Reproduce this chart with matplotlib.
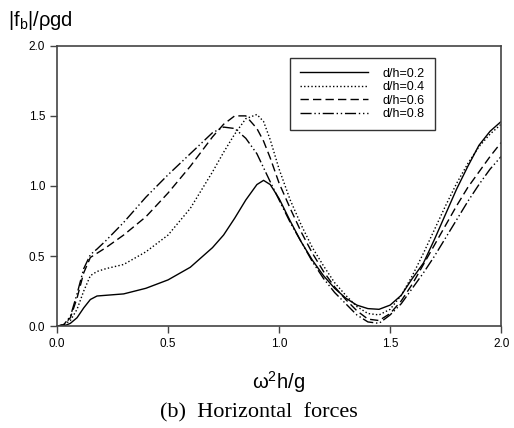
import matplotlib
matplotlib.use("Agg")
import matplotlib.pyplot as plt

# omega^2 h / g sample positions
xs = [0.0, 0.03, 0.06, 0.09, 0.12, 0.15, 0.18, 0.22, 0.3, 0.4, 0.5, 0.6, 0.7, 0.75,
      0.8, 0.85, 0.9, 0.93, 0.96, 1.0, 1.05, 1.1, 1.15, 1.2, 1.25, 1.3, 1.35, 1.4, 1.45,
      1.5, 1.55, 1.6, 1.65, 1.7, 1.75, 1.8, 1.85, 1.9, 1.95, 2.0]

f_02 = [0.0, 0.0, 0.02, 0.06, 0.13, 0.19, 0.215, 0.22, 0.23, 0.27, 0.33, 0.42, 0.56, 0.65,
        0.77, 0.9, 1.01, 1.04, 1.01, 0.91, 0.75, 0.6, 0.47, 0.36, 0.27, 0.2, 0.15, 0.125, 0.12,
        0.15, 0.22, 0.34, 0.45, 0.62, 0.8, 0.98, 1.14, 1.29, 1.39, 1.46]
f_04 = [0.0, 0.01, 0.04, 0.12, 0.25, 0.36, 0.39, 0.41, 0.44, 0.53, 0.65, 0.84, 1.1, 1.24,
        1.37, 1.48, 1.51, 1.46, 1.33, 1.12, 0.9, 0.72, 0.56, 0.43, 0.31, 0.22, 0.14, 0.09, 0.08,
        0.12, 0.22, 0.36, 0.52, 0.69, 0.86, 1.02, 1.16, 1.28, 1.37, 1.44]
f_06 = [0.0, 0.01, 0.06, 0.2, 0.38, 0.49, 0.52, 0.56, 0.65, 0.78, 0.95, 1.14, 1.35, 1.44,
        1.5, 1.5, 1.41, 1.32, 1.2, 1.02, 0.84, 0.67, 0.52, 0.39, 0.28, 0.19, 0.11, 0.05, 0.04,
        0.09, 0.18, 0.3, 0.44, 0.58, 0.72, 0.86, 0.99, 1.1, 1.21, 1.31]
f_08 = [0.0, 0.01, 0.07, 0.23, 0.41, 0.51, 0.55, 0.61, 0.74, 0.92, 1.08, 1.23, 1.38, 1.42,
        1.41, 1.34, 1.23, 1.13, 1.03, 0.9, 0.74, 0.6, 0.46, 0.34, 0.24, 0.16, 0.08, 0.03, 0.02,
        0.08, 0.16, 0.27, 0.38, 0.5, 0.63, 0.76, 0.89, 1.01, 1.12, 1.21]

labels = ["d/h=0.2", "d/h=0.4", "d/h=0.6", "d/h=0.8"]
ticks = [0.0, 0.5, 1.0, 1.5, 2.0]

plt.rcParams["font.family"] = ["Liberation Sans", "DejaVu Sans"]
plt.rcParams["mathtext.fontset"] = "custom"
plt.rcParams["mathtext.rm"] = "Liberation Sans"

fig = plt.figure(figsize=(5.14, 4.28), dpi=100)
ax = fig.add_axes([0.111, 0.238, 0.864, 0.655])

styles = ["-", (0, (1, 1.6)), (0, (6, 3)), (0, (8, 2, 1, 2, 1, 2))]
for ys, lab, ls in zip([f_02, f_04, f_06, f_08], labels, styles):
    ax.plot(xs, ys, color="black", linestyle=ls, linewidth=1.0, label=lab)

ax.set_xlim(0, 2.0)
ax.set_ylim(0, 2.0)
ax.set_xticks(ticks)
ax.set_yticks(ticks)
ax.set_xticklabels([f"{t:.1f}" for t in ticks])
ax.set_yticklabels([f"{t:.1f}" for t in ticks])
ax.tick_params(direction="out", length=5, width=1, labelsize=8.5, color="#444444")
for sp in ax.spines.values():
    sp.set_color("#444444")
    sp.set_linewidth(1.2)

leg = ax.legend(loc="upper left", bbox_to_anchor=(0.525, 0.957), fancybox=False,
                edgecolor="#333333", framealpha=1, fontsize=9, handlelength=5.4,
                labelspacing=0.12, borderaxespad=0, handletextpad=1.2,
                borderpad=0.8)
leg.get_frame().set_linewidth(1.0)

fig.text(0.015, 0.952, r"|f$_\mathregular{b}$|/ρgd", fontsize=14.5, ha="left", va="center")
fig.text(0.542, 0.107, r"ω$^\mathregular{2}$h/g", fontsize=14.5, ha="center", va="center")
fig.text(0.504, 0.036, "(b)  Horizontal  forces", fontsize=16, ha="center", va="center",
         family="Liberation Serif")

fig.savefig("out.png", dpi=100)
